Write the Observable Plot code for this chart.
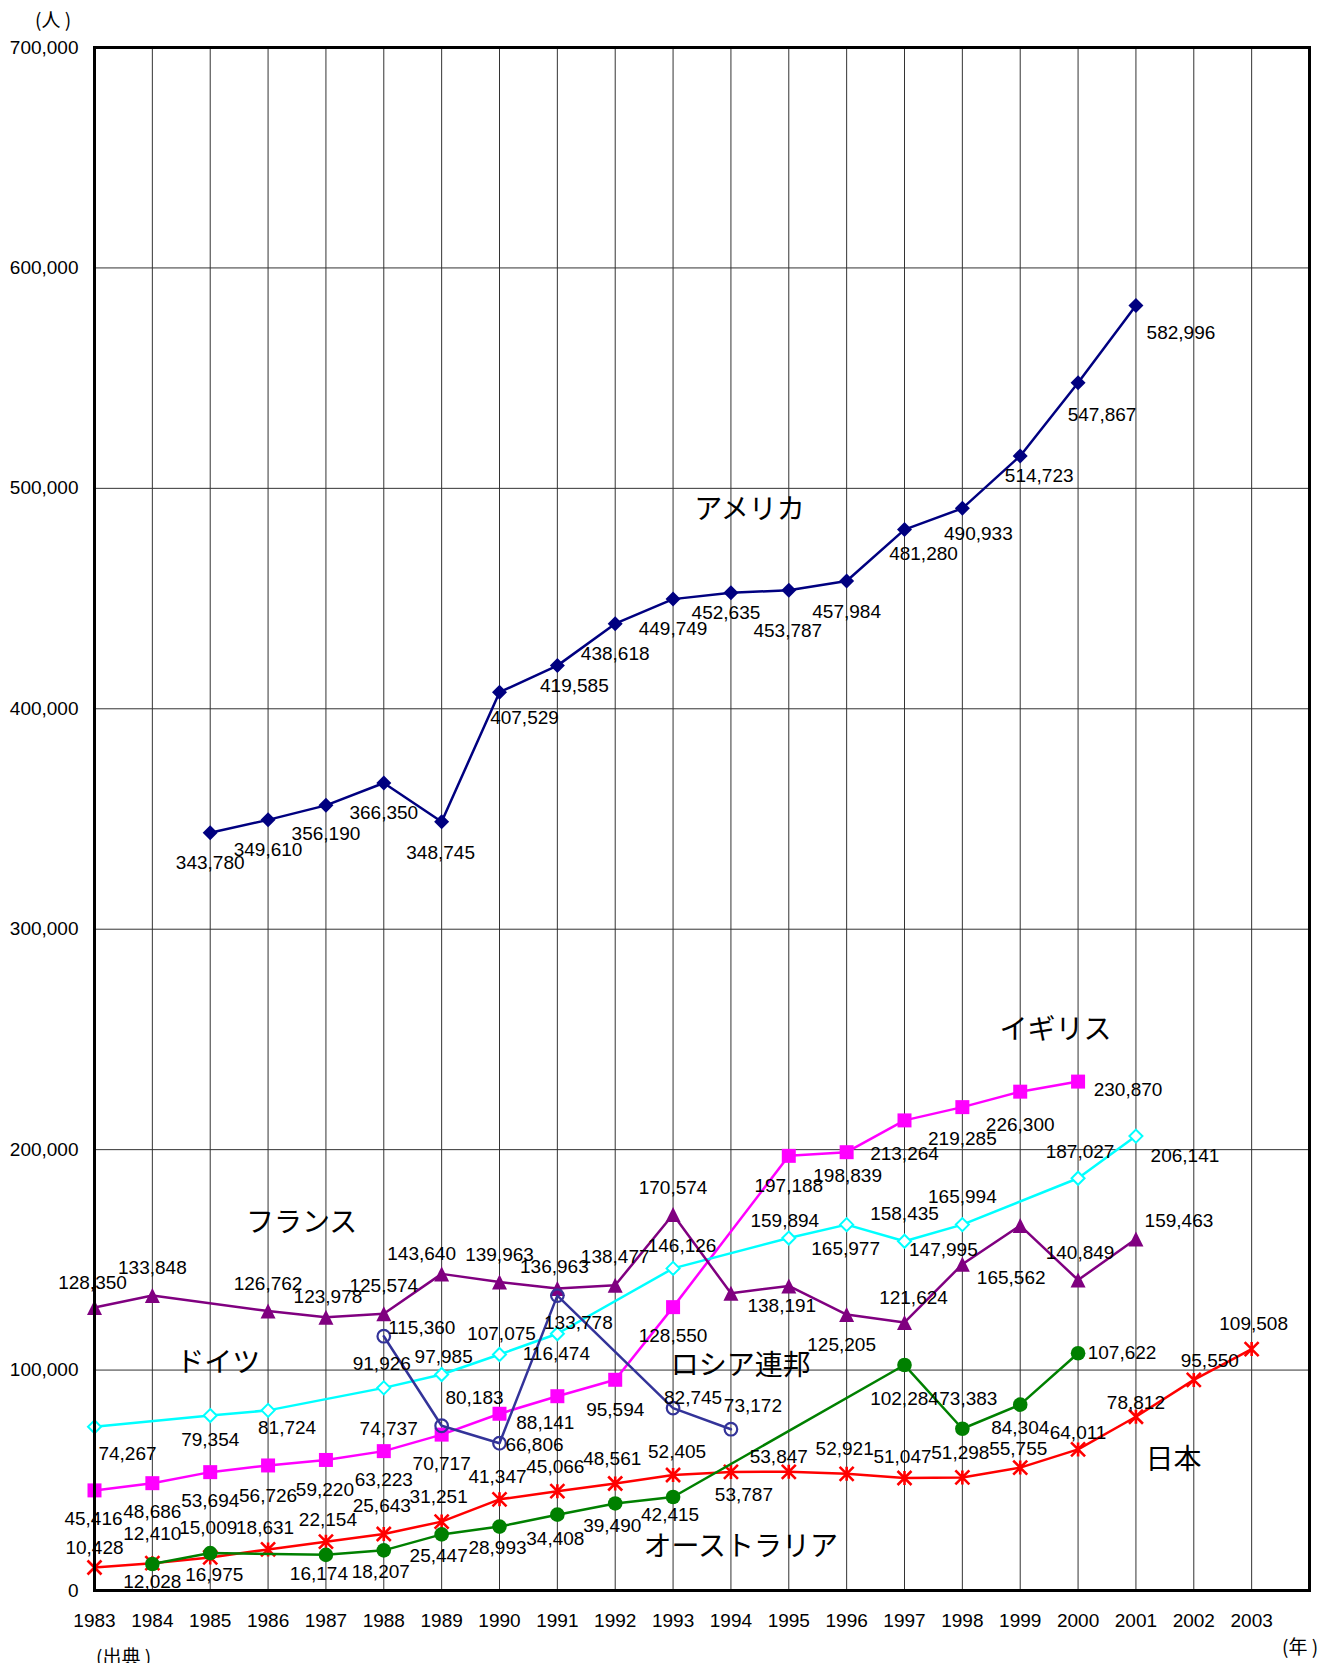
<!DOCTYPE html>
<html>
<head>
<meta charset="utf-8">
<script src="https://cdn.jsdelivr.net/npm/d3@7"></script>
<script src="https://cdn.jsdelivr.net/npm/@observablehq/plot@0.6"></script>
<style>
  html, body { margin: 0; padding: 0; background: #fff; }
  #wrap { position: relative; width: 1333px; height: 1663px; overflow: hidden; }
  .note { position: absolute; font-family: "Noto Sans CJK JP", sans-serif; font-size: 19px; line-height: 1; color: #000; white-space: pre; }
</style>
</head>
<body>
<div id="wrap">
  <div id="chart"></div>
  <div class="note" style="left:35px; top:9px;">(人 )</div>
  <div class="note" style="left:1282px; top:1636px;">(年 )</div>
  <div class="note" style="left:96px; top:1646px;">(出典 )</div>
</div>
<script>
// ---------- data ----------
const years = [1983,1984,1985,1986,1987,1988,1989,1990,1991,1992,1993,1994,1995,1996,1997,1998,1999,2000,2001,2002,2003];
const yTicks = [0,100000,200000,300000,400000,500000,600000,700000];

const usaValues       = [null,null,343780,349610,356190,366350,348745,407529,419585,438618,449749,452635,453787,457984,481280,490933,514723,547867,582996,null,null];
const ukValues        = [45416,48686,53694,56726,59220,63223,70717,80183,88141,95594,128550,null,197188,198839,213264,219285,226300,230870,null,null,null];
const germanyValues   = [74267,null,79354,81724,null,91926,97985,107075,116474,null,146126,null,159894,165977,158435,165994,null,187027,206141,null,null];
const franceValues    = [128350,133848,null,126762,123978,125574,143640,139963,136963,138477,170574,134800,138191,125205,121624,147995,165562,140849,159463,null,null];
const russiaValues    = [null,null,null,null,null,115360,74737,66806,133778,null,82745,73172,null,null,null,null,null,null,null,null,null];
const japanValues     = [10428,12410,15009,18631,22154,25643,31251,41347,45066,48561,52405,53787,53847,52921,51047,51298,55755,64011,78812,95550,109508];
const australiaValues = [null,12028,16975,null,16174,18207,25447,28993,34408,39490,42415,null,null,null,102284,73383,84304,107622,null,null,null];

const seriesNames = ["アメリカ","イギリス","ドイツ","フランス","ロシア連邦","日本","オーストラリア"];

// ---------- label placement (pixel offsets from each point, keyed by year) ----------
const usaLabelOffsets = {1985:[0,30],1986:[0,30],1987:[0,29],1988:[0,30],1989:[-1,31],1990:[25,26],1991:[17,20],1992:[0,30],1993:[0,30],1994:[-5,20],1995:[-1,41],1996:[0,31],1997:[19,24],1998:[16,26],1999:[19,20],2000:[24,32],2001:[45,27]};
const ukLabelOffsets = {1983:[-1,29],1984:[0,29],1985:[0,29],1986:[0,30],1987:[-1,30],1988:[0,29],1989:[0,29],1990:[-25,-16],1991:[-12,27],1992:[0,30],1993:[0,29],1995:[0,30],1996:[1,24],1997:[0,34],1998:[0,32],1999:[0,33],2000:[50,8]};
const germanyLabelOffsets = {1983:[33,27],1985:[0,24],1986:[19,18],1988:[-2,-24],1989:[2,-18],1990:[2,-21],1991:[-1,20],1993:[9,-22],1995:[-4,-17],1996:[-1,24],1997:[0,-27],1998:[0,-28],2000:[2,-26],2001:[49,20]};
const franceLabelOffsets = {1983:[-2,-25],1984:[0,-28],1986:[0,-27],1987:[2,-20],1988:[0,-28],1989:[-20,-20],1990:[0,-27],1991:[-3,-22],1992:[0,-28],1993:[0,-27],1995:[-7,20],1996:[-5,30],1997:[9,-24],1998:[-19,-14],1999:[-9,52],2000:[2,-27],2001:[43,-18]};
const russiaLabelOffsets = {1988:[38,-8],1989:[-53,3],1990:[35,2],1991:[21,27],1993:[20,-10],1994:[22,-23]};
const japanLabelOffsets = {1983:[0,-20],1984:[0,-29],1985:[-2,-30],1986:[-3,-22],1987:[2,-22],1988:[-2,-28],1989:[-3,-25],1990:[-2,-22],1991:[-2,-24],1992:[-3,-25],1993:[4,-23],1994:[13,23],1995:[-10,-15],1996:[-2,-25],1997:[-2,-21],1998:[-2,-25],1999:[-2,-19],2000:[0,-16],2001:[0,-14],2002:[16,-19],2003:[2,-25]};
const australiaLabelOffsets = {1984:[0,18],1985:[4,22],1987:[-7,19],1988:[-3,22],1989:[-3,21],1990:[-2,21],1991:[-2,24],1992:[-3,22],1993:[-3,18],1997:[0,34],1998:[6,-30],1999:[0,23],2000:[44,0]};

// series name annotations, placed in data space
const nameAnchorYears  = [1994.32, 1999.61, 1985.14, 1986.58, 1994.17, 2001.65, 1994.17];
const nameAnchorValues = [490000, 254400, 103000, 166500, 102000, 59400, 19500];

// ---------- symbols ----------
const rad = s => Math.sqrt(s / Math.PI);
const symDiamond = {draw(c, s){ const r = rad(s); c.moveTo(0,-r); c.lineTo(r,0); c.lineTo(0,r); c.lineTo(-r,0); c.closePath(); }};
const symSquare = {draw(c, s){ const r = rad(s); c.moveTo(-r,-r); c.lineTo(r,-r); c.lineTo(r,r); c.lineTo(-r,r); c.closePath(); }};
const symTriangle = {draw(c, s){ const r = rad(s); c.moveTo(0,-r); c.lineTo(r,r); c.lineTo(-r,r); c.closePath(); }};
const symStar = {draw(c, s){ const r = rad(s); c.moveTo(-r,-r); c.lineTo(r,r); c.moveTo(r,-r); c.lineTo(-r,r); c.moveTo(0,-r); c.lineTo(0,r); }};

const rows = vals => years.map((year, i) => ({year, value: vals[i]})).filter(d => d.value != null);
const fmt = d3.format(",");

const series = [
  {vals: usaValues,       offs: usaLabelOffsets,       color: "#000080", sym: symDiamond,  r: 7.5, fill: "#000080", sw: 0},
  {vals: ukValues,        offs: ukLabelOffsets,        color: "#FF00FF", sym: symSquare,   r: 7,   fill: "#FF00FF", sw: 0},
  {vals: germanyValues,   offs: germanyLabelOffsets,   color: "#00FFFF", sym: symDiamond,  r: 6.5, fill: "#FFFFFF", sw: 2},
  {vals: franceValues,    offs: franceLabelOffsets,    color: "#800080", sym: symTriangle, r: 7.5, fill: "#800080", sw: 0},
  {vals: russiaValues,    offs: russiaLabelOffsets,    color: "#333399", sym: "circle",    r: 6.3, fill: "none",    sw: 2.2},
  {vals: japanValues,     offs: japanLabelOffsets,     color: "#FF0000", sym: symStar,     r: 7,   fill: "none",    sw: 2.6},
  {vals: australiaValues, offs: australiaLabelOffsets, color: "#008000", sym: "circle",    r: 7.3, fill: "#008000", sw: 0}
];

const marks = [
  Plot.gridX(years, {stroke: "#333", strokeOpacity: 1, strokeWidth: 1}),
  Plot.gridY(yTicks.slice(1, -1), {stroke: "#333", strokeOpacity: 1, strokeWidth: 1}),
  Plot.axisX(years, {anchor: "bottom", tickSize: 0, tickPadding: 23, tickFormat: d => String(d), label: null, fontSize: 19, fill: "#000"}),
  Plot.axisY(yTicks, {anchor: "left", tickSize: 0, tickPadding: 16, tickFormat: fmt, label: null, fontSize: 19, fill: "#000"})
];

for (const s of series) {
  const data = rows(s.vals);
  marks.push(Plot.line(data, {x: "year", y: "value", stroke: s.color, strokeWidth: 2.5}));
  marks.push(Plot.dot(data, {
    x: "year", y: "value", symbol: s.sym, r: s.r,
    fill: s.fill,
    stroke: s.sw ? s.color : "none",
    strokeWidth: s.sw || 0
  }));
}

marks.push(Plot.frame({stroke: "#000", strokeWidth: 3}));

for (const s of series) {
  for (const d of rows(s.vals)) {
    const o = s.offs[d.year];
    if (!o) continue;
    marks.push(Plot.text([d], {
      x: "year", y: "value", text: e => fmt(e.value),
      dx: o[0], dy: o[1], fontSize: 19, fill: "#000",
      textAnchor: "middle", lineAnchor: "middle"
    }));
  }
}

marks.push(Plot.text(seriesNames.map((name, i) => ({name, x: nameAnchorYears[i], y: nameAnchorValues[i]})), {
  x: "x", y: "y", text: "name", fontSize: 28, fill: "#000",
  fontFamily: "Noto Sans CJK JP", textAnchor: "middle", lineAnchor: "middle"
}));

const chart = Plot.plot({
  width: 1333,
  height: 1663,
  marginLeft: 94,
  marginRight: 24,
  marginTop: 47,
  marginBottom: 73,
  x: {domain: [1983, 2004], axis: null},
  y: {domain: [0, 700000], axis: null},
  style: {fontFamily: "Liberation Sans, Arial, sans-serif", fontSize: "19px", background: "#fff", color: "#000"},
  marks
});
document.getElementById("chart").appendChild(chart);
</script>
</body>
</html>
